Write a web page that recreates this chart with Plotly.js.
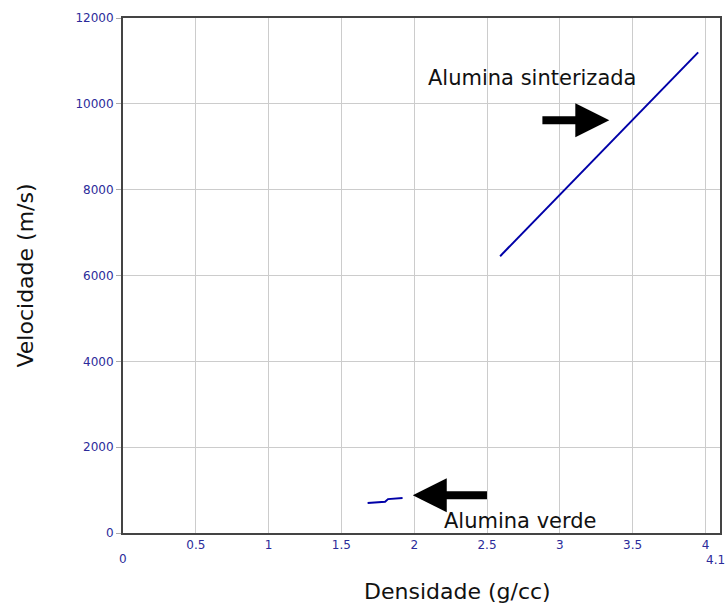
<!DOCTYPE html>
<html>
<head>
<meta charset="utf-8">
<script src="https://cdn.plot.ly/plotly-3.0.1.min.js"></script>
<style>body{margin:0;padding:0;background:#fff}#chart{width:726px;height:605px}</style>
</head>
<body>
<div id="chart"></div>
<script>
// Data
const sintX = [2.59, 2.8, 3.0, 3.2, 3.4, 3.6, 3.8, 3.95];
const sintY = [6450, 7180, 7880, 8580, 9280, 9980, 10680, 11200];
const verdeX = [1.68, 1.8, 1.82, 1.92];
const verdeY = [700, 730, 790, 815];
const xTickVals = [0.5, 1, 1.5, 2, 2.5, 3, 3.5, 4];
const xTickText = ["0.5", "1", "1.5", "2", "2.5", "3", "3.5", "4"];
const yTickVals = [0, 2000, 4000, 6000, 8000, 10000, 12000];
const yTickText = ["0", "2000", "4000", "6000", "8000", "10000", "12000"];
const labelSint = "Alumina sinterizada";
const labelVerde = "Alumina verde";
const xTitle = "Densidade (g/cc)";
const yTitle = "Velocidade (m/s)";

const lineColor = "#0000a8";
const tickColor = "#2b2b9a";
const fontFam = "Tahoma, 'DejaVu Sans', Verdana, sans-serif";
const titleFam = "'DejaVu Sans', sans-serif";

const traces = [
  {x: sintX, y: sintY, mode: "lines", line: {color: lineColor, width: 2}, hoverinfo: "skip"},
  {x: verdeX, y: verdeY, mode: "lines", line: {color: lineColor, width: 2}, hoverinfo: "skip"}
];

const layout = {
  width: 726, height: 605,
  margin: {l: 123, r: 6, t: 18, b: 72},
  paper_bgcolor: "#fff", plot_bgcolor: "#fff",
  showlegend: false,
  xaxis: {
    range: [0, 4.1], tickvals: xTickVals, ticktext: xTickText,
    showgrid: true, gridcolor: "#cccccc", gridwidth: 1,
    showline: true, linecolor: "#444", linewidth: 2, mirror: true,
    ticks: "", zeroline: false,
    tickfont: {family: fontFam, size: 12, color: tickColor}
  },
  yaxis: {
    range: [0, 12000], tickvals: yTickVals, ticktext: yTickText,
    showgrid: true, gridcolor: "#cccccc", gridwidth: 1,
    showline: true, linecolor: "#444", linewidth: 2, mirror: true,
    ticks: "outside", ticklen: 5, tickcolor: "#aaa", zeroline: false,
    tickfont: {family: fontFam, size: 12, color: tickColor},
    title: {text: yTitle, font: {family: titleFam, size: 22, color: "#111"}, standoff: 36}
  },
  annotations: [
    {xref: "paper", yref: "paper", x: 0.5595, y: 0, yanchor: "top", yshift: -44, text: xTitle, showarrow: false, font: {family: titleFam, size: 22, color: "#111"}},
    {x: 0, y: 0, xref: "x", yref: "y", text: "0", showarrow: false, yshift: -26, font: {family: fontFam, size: 12, color: tickColor}},
    {x: 4.1, y: 0, xref: "x", yref: "y", text: "4.1", showarrow: false, xanchor: "right", xshift: 7, yshift: -27, font: {family: fontFam, size: 12, color: tickColor}},
    {x: 3.34, y: 9620, xref: "x", yref: "y", ax: 2.87, ay: 9620, axref: "x", ayref: "y", text: "", showarrow: true, arrowhead: 2, arrowsize: 0.85, arrowwidth: 8, arrowcolor: "#000"},
    {x: 1.99, y: 880, xref: "x", yref: "y", ax: 2.51, ay: 880, axref: "x", ayref: "y", text: "", showarrow: true, arrowhead: 2, arrowsize: 0.85, arrowwidth: 8, arrowcolor: "#000"},
    {x: 2.81, y: 10600, xref: "x", yref: "y", text: labelSint, showarrow: false, font: {family: titleFam, size: 21, color: "#111"}},
    {x: 2.73, y: 290, xref: "x", yref: "y", text: labelVerde, showarrow: false, font: {family: titleFam, size: 21, color: "#111"}}
  ]
};

Plotly.newPlot("chart", traces, layout, {displayModeBar: false, staticPlot: true});
</script>
</body>
</html>
